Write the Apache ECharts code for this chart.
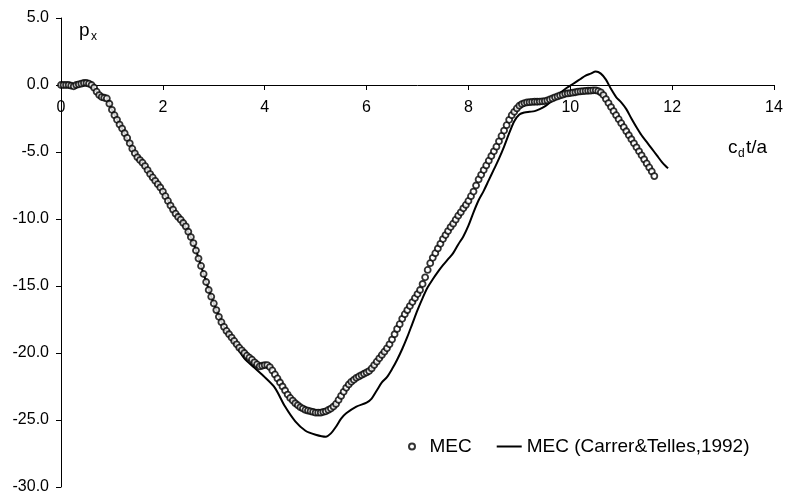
<!DOCTYPE html>
<html>
<head>
<meta charset="utf-8">
<script src="https://cdn.jsdelivr.net/npm/echarts@6/dist/echarts.min.js"></script>
<style>html,body{margin:0;padding:0;background:#fff;}#c{width:785px;height:498px;}</style>
</head>
<body>
<div id="c"></div>
<script>
// x tick labels and y tick labels
var xTicks = [0, 2, 4, 6, 8, 10, 12, 14];
var yTicks = [5.0, 0.0, -5.0, -10.0, -15.0, -20.0, -25.0, -30.0];

// MEC series: sampled every 0.05 in c_d t/a starting at 0
var mecStart = 0;
var mecStep = 0.05;
var mecY = [
  0.0, 0.0, 0.0, 0.0, -0.05, -0.1, 0.0, 0.05, 0.1, 0.15, 0.15, 0.1, 0.0, -0.2, -0.5, -0.75, -0.9, -0.95, -1.0, -1.4,
  -1.85, -2.25, -2.6, -2.95, -3.25, -3.6, -3.95, -4.35, -4.75, -5.1, -5.4, -5.6, -5.8, -6.05, -6.35, -6.65, -6.9, -7.15, -7.4, -7.65,
  -7.95, -8.3, -8.65, -9.0, -9.3, -9.6, -9.85, -10.05, -10.3, -10.55, -10.95, -11.35, -11.8, -12.35, -12.95, -13.5, -14.1, -14.7, -15.3, -15.8,
  -16.3, -16.8, -17.3, -17.7, -18.05, -18.35, -18.6, -18.85, -19.1, -19.35, -19.6, -19.8, -20.0, -20.2, -20.35, -20.5, -20.7, -20.85, -21.0, -20.95,
  -20.9, -20.9, -21.05, -21.3, -21.6, -21.9, -22.2, -22.5, -22.8, -23.1, -23.35, -23.55, -23.75, -23.9, -24.05, -24.15, -24.25, -24.3, -24.35, -24.4,
  -24.45, -24.45, -24.45, -24.4, -24.35, -24.25, -24.15, -24.0, -23.8, -23.5, -23.2, -22.9, -22.6, -22.35, -22.15, -22.0, -21.85, -21.75, -21.65, -21.55,
  -21.45, -21.35, -21.15, -20.9, -20.65, -20.4, -20.15, -19.9, -19.65, -19.35, -19.0, -18.6, -18.2, -17.85, -17.45, -17.1, -16.8, -16.5, -16.2, -15.9,
  -15.6, -15.3, -14.85, -14.35, -13.8, -13.3, -12.9, -12.55, -12.2, -11.85, -11.5, -11.2, -10.9, -10.6, -10.35, -10.05, -9.75, -9.5, -9.2, -8.95,
  -8.65, -8.3, -7.95, -7.5, -7.05, -6.7, -6.35, -6.0, -5.65, -5.3, -4.95, -4.6, -4.2, -3.8, -3.4, -3.0, -2.6, -2.25, -2.0, -1.75,
  -1.55, -1.42, -1.35, -1.3, -1.28, -1.26, -1.25, -1.25, -1.24, -1.22, -1.2, -1.15, -1.08, -1.0, -0.92, -0.85, -0.78, -0.72, -0.66, -0.63,
  -0.6, -0.57, -0.54, -0.5, -0.48, -0.46, -0.44, -0.43, -0.42, -0.4, -0.4, -0.45, -0.55, -0.75, -1.05, -1.35, -1.65, -1.95, -2.25, -2.55,
  -2.85, -3.15, -3.45, -3.75, -4.05, -4.35, -4.65, -4.95, -5.25, -5.55, -5.85, -6.15, -6.45, -6.8
];

// MEC (Carrer&Telles,1992) line
var ctX = [0, 0.2, 0.4, 0.5, 0.6, 0.7, 0.8, 0.9, 1.0, 1.2, 1.4, 1.6, 1.8, 2.0, 2.2, 2.4, 2.6, 2.8, 3.0, 3.2, 3.4, 3.6, 3.8, 4.0, 4.2, 4.4, 4.6, 4.8, 5.0, 5.2, 5.3, 5.4, 5.5, 5.6, 5.8, 6.0, 6.1, 6.2, 6.3, 6.4, 6.5, 6.6, 6.7, 6.8, 6.9, 7.0, 7.1, 7.2, 7.3, 7.4, 7.5, 7.6, 7.7, 7.8, 7.9, 8.0, 8.1, 8.2, 8.3, 8.4, 8.5, 8.6, 8.7, 8.8, 8.9, 9.0, 9.1, 9.2, 9.3, 9.4, 9.5, 9.6, 9.7, 9.8, 9.9, 10.0, 10.1, 10.2, 10.3, 10.4, 10.5, 10.6, 10.7, 10.8, 10.9, 11.0, 11.1, 11.2, 11.3, 11.4, 11.5, 11.6, 11.7, 11.8, 11.9, 11.92];
var ctY = [0, 0, 0.1, 0.15, 0.0, -0.5, -0.9, -1.0, -1.85, -3.25, -4.75, -5.8, -6.9, -7.95, -9.3, -10.3, -11.8, -14.1, -16.3, -18.05, -19.2, -20.4, -21.1, -21.8, -22.6, -24.0, -25.1, -25.8, -26.1, -26.25, -26.0, -25.5, -24.9, -24.5, -24.0, -23.7, -23.4, -22.8, -22.2, -21.8, -21.2, -20.5, -19.7, -18.8, -17.8, -16.8, -15.9, -15.1, -14.5, -13.95, -13.45, -13.0, -12.55, -11.9, -11.3, -10.5, -9.5, -8.6, -7.9, -7.1, -6.3, -5.5, -4.6, -3.6, -2.7, -2.2, -2.05, -2.0, -1.95, -1.8, -1.6, -1.3, -0.95, -0.6, -0.3, -0.05, 0.2, 0.45, 0.7, 0.85, 1.0, 0.85, 0.4, -0.3, -0.9, -1.3, -1.8, -2.5, -3.15, -3.75, -4.25, -4.75, -5.25, -5.75, -6.15, -6.22];

var mecData = mecY.map(function (v, i) { return [mecStart + i * mecStep, v]; });
var ctData = ctY.map(function (v, i) { return [ctX[i], v]; });

var FONT = '"Liberation Sans", Arial, sans-serif';
var chart = echarts.init(document.getElementById('c'), null, {renderer: 'canvas'});
chart.setOption({
  animation: false,
  backgroundColor: '#fff',
  grid: {left: 61, right: 11, top: 18, bottom: 11, containLabel: false, outerBoundsMode: 'none'},
  xAxis: {
    type: 'value', position: 'bottom', offset: -402,
    min: xTicks[0], max: xTicks[xTicks.length - 1], interval: 2,
    axisLine: {onZero: false, lineStyle: {color: '#000', width: 1}},
    axisTick: {show: true, length: 5, lineStyle: {color: '#000'}},
    axisLabel: {color: '#000', fontFamily: FONT, fontSize: 16, margin: 15, showMinLabel: true, showMaxLabel: true},
    splitLine: {show: false}
  },
  yAxis: {
    type: 'value', min: yTicks[yTicks.length - 1], max: yTicks[0], interval: 5,
    axisLine: {show: true, onZero: false, lineStyle: {color: '#000', width: 1}},
    axisTick: {show: true, length: 5, lineStyle: {color: '#000'}},
    axisLabel: {color: '#000', fontFamily: FONT, fontSize: 16, margin: 12,
      formatter: function (v) { return v.toFixed(1); }},
    splitLine: {show: false}
  },
  legend: {
    left: 403, top: 432, padding: 5, itemWidth: 25, itemHeight: 6, itemGap: 25,
    textStyle: {color: '#000', fontFamily: FONT, fontSize: 19},
    data: [
      {name: 'MEC', icon: 'circle'},
      {name: 'MEC (Carrer&Telles,1992)', icon: 'path://M0,0H25V2H0Z', itemStyle: {color: '#000', borderWidth: 0}}
    ]
  },
  series: [
    {
      name: 'MEC (Carrer&Telles,1992)', type: 'line', data: ctData, symbol: 'none', showSymbol: false,
      smooth: 0.3, lineStyle: {color: '#000', width: 2}, itemStyle: {color: '#000'}, z: 2
    },
    {
      name: 'MEC', type: 'scatter', data: mecData, symbol: 'circle', symbolSize: 6,
      itemStyle: {color: '#fff', borderColor: '#000', borderWidth: 1.8}, z: 3
    }
  ],
  graphic: [
    {type: 'text', left: 79, top: 21, style: {text: 'p', fontFamily: FONT, fontSize: 19, fill: '#000'}},
    {type: 'text', left: 91, top: 31, style: {text: 'x', fontFamily: FONT, fontSize: 12, fill: '#000'}},
    {type: 'text', left: 728, top: 138, style: {text: 'c', fontFamily: FONT, fontSize: 19, fill: '#000'}},
    {type: 'text', left: 738, top: 148, style: {text: 'd', fontFamily: FONT, fontSize: 12, fill: '#000'}},
    {type: 'text', left: 746, top: 138, style: {text: 't/a', fontFamily: FONT, fontSize: 19, fill: '#000'}}
  ]
});
</script>
</body>
</html>
